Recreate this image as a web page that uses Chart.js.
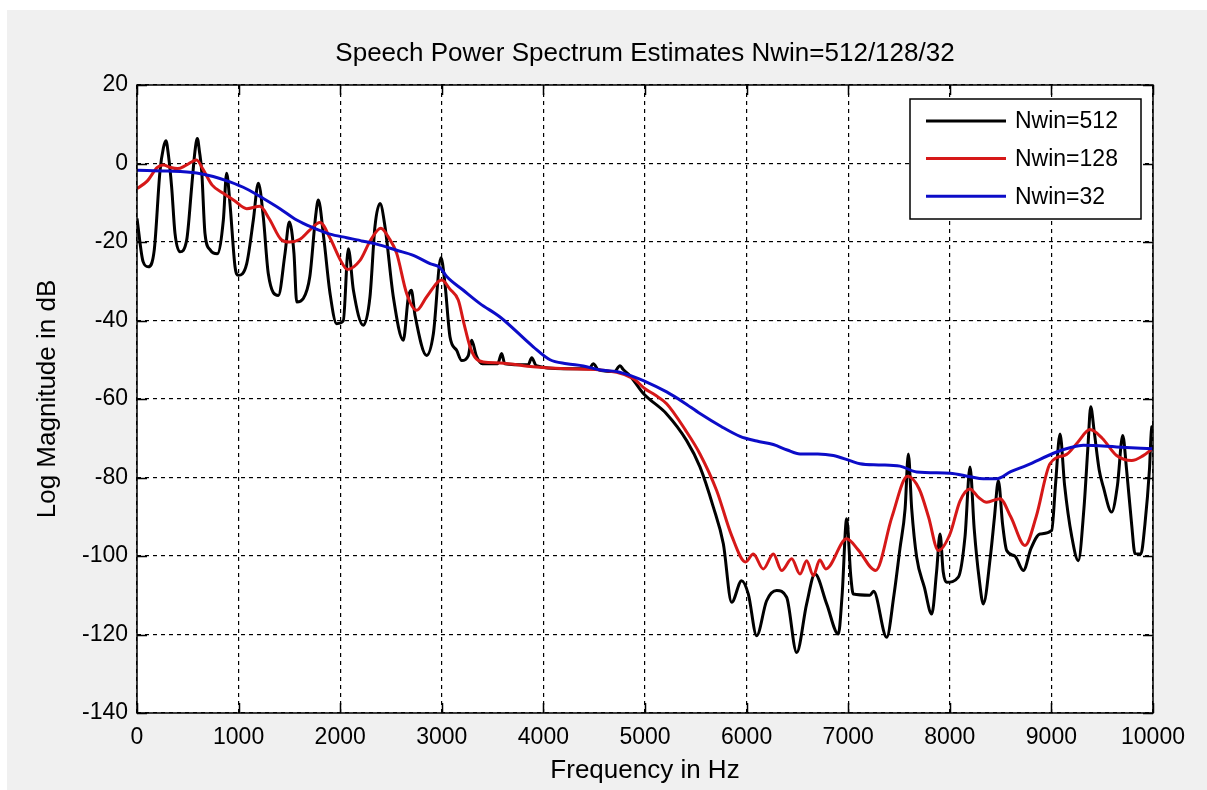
<!DOCTYPE html>
<html>
<head>
<meta charset="utf-8">
<script src="https://cdn.jsdelivr.net/npm/chart.js@4.4.1/dist/chart.umd.min.js"></script>
<style>
  html, body { margin: 0; padding: 0; background: #ffffff; overflow: hidden; }
  #wrap { position: absolute; left: 7px; top: 10px; width: 1200px; height: 780px; }
</style>
</head>
<body>
<div id="wrap"><canvas id="psd" width="1200" height="780"></canvas></div>
<script>
// Speech power spectrum, three window lengths
const freq512 = [0, 60, 111, 170, 226, 260, 285, 310, 341, 374, 423, 489, 538, 570, 594, 615, 637, 669, 720, 790,
    850, 882, 915, 965, 997, 1080, 1145, 1194, 1243, 1292, 1391, 1457, 1499, 1545, 1572, 1637, 1701, 1760, 1785, 1837,
    1900, 1965, 2030, 2080, 2130, 2228, 2293, 2342, 2392, 2441, 2523, 2621, 2671, 2700, 2736, 2851, 2917, 2992, 3031, 3081,
    3146, 3196, 3260, 3294, 3340, 3400, 3550, 3589, 3620, 3850, 3885, 3930, 4200, 4450, 4491, 4540, 4700, 4754, 4786, 4850,
    4984, 5213, 5410, 5541, 5672, 5771, 5853, 5951, 6017, 6099, 6197, 6296, 6394, 6493, 6591, 6673, 6788, 6903, 6940, 6985,
    7025, 7050, 7213, 7250, 7379, 7450, 7510, 7560, 7592, 7625, 7674, 7750, 7822, 7870, 7904, 7935, 7970, 8084, 8150, 8199,
    8240, 8290, 8330, 8400, 8440, 8478, 8520, 8560, 8640, 8724, 8800, 8888, 9003, 9040, 9085, 9130, 9200, 9265, 9320, 9360,
    9387, 9420, 9470, 9511, 9593, 9650, 9702, 9740, 9790, 9823, 9880, 9921, 9965, 9987, 10000];
const db512 = [-14, -25, -26.3, -22, -2, 4, 5.8, 2, -6, -17.8, -22.5, -19.5, -6, 3, 6.4, 3, -2, -17.8, -22, -23,
    -14.4, -2.5, -10.2, -26.3, -28.5, -25.5, -14.4, -5, -13.6, -28, -33.6, -22.9, -14.9, -22.9, -35.3, -34.4, -28.8, -13, -9.3, -18.7,
    -33.1, -40.8, -40.1, -21.7, -32.3, -41.2, -34, -16.1, -10.2, -16.1, -34, -45, -34, -32.3, -38.6, -48.9, -43.4, -24, -30.6, -44.2,
    -47.6, -50.2, -49, -45, -49, -51, -51, -48.4, -51, -51.3, -49.5, -51.5, -52.3, -52.3, -51, -52.5, -53, -51.5, -52.5, -54,
    -58.6, -63.8, -70.6, -77.3, -87.5, -96.9, -111.8, -106.3, -109.7, -120.3, -111.4, -108.8, -110.5, -124.6, -112.2, -104.6, -112.2, -119.9, -110, -90.5,
    -105, -109.7, -110, -109, -120.7, -110, -98, -88, -74, -88, -100.3, -108, -114.8, -104, -94.4, -104, -106.7, -105.4, -95, -77.3,
    -93, -106, -112.2, -100, -90, -80.8, -92, -98.6, -100, -103.7, -98, -94.4, -93.5, -82, -68.9, -82, -95, -101.2, -88, -72,
    -62, -68, -78, -82.4, -88.8, -82, -69.3, -78, -92, -99.4, -99.5, -91.8, -78, -67.1, -67];

const freq128 = [0, 100, 200, 259, 330, 400, 480, 587, 650, 740, 850, 960, 1080, 1210, 1300, 1424, 1500, 1604, 1700, 1801,
    1900, 2000, 2070, 2195, 2300, 2400, 2480, 2556, 2654, 2752, 2850, 2999, 3080, 3162, 3220, 3278, 3330, 3409, 3573, 3900,
    4229, 4557, 4885, 5000, 5100, 5213, 5400, 5541, 5705, 5853, 5990, 6066, 6164, 6263, 6345, 6444, 6526, 6591, 6657, 6720,
    6780, 6985, 7100, 7270, 7430, 7584, 7700, 7790, 7887, 8002, 8100, 8199, 8280, 8363, 8494, 8600, 8740, 8850, 8986, 9150,
    9260, 9380, 9500, 9642, 9790, 9900, 10000];
const db128 = [-6.4, -4.5, -1, -0.4, -1, -1.3, -0.5, 0.9, -1.5, -5.5, -7.6, -9.5, -11.5, -10.9, -14, -19.5, -20, -19.3, -17, -15,
    -19, -24.5, -27, -24.7, -19.5, -16.5, -19, -22.9, -33.1, -37.4, -34, -29.7, -32, -34.8, -41, -46.7, -49.5, -50.6, -50.8, -51.8,
    -52.3, -52.6, -54.8, -57.4, -59, -61.2, -68, -74, -83.3, -94.8, -101.5, -99.5, -103.3, -99.5, -103.7, -100.7, -104.6, -101.2, -105, -101,
    -103.3, -95.6, -98.5, -103.7, -90.1, -79.7, -83, -90, -98.6, -94.4, -86, -82.9, -85, -86.3, -85.4, -90, -97.3, -90, -76.5, -74.1,
    -71, -67.8, -70, -74.4, -75.7, -74.5, -72.5];

const freq32 = [0, 300, 587, 750, 915, 1080, 1243, 1407, 1572, 1736, 1900, 2064, 2228, 2392, 2556, 2720, 2884, 2982, 3048, 3212,
    3376, 3573, 3900, 4065, 4229, 4393, 4557, 4721, 4885, 4984, 5213, 5377, 5541, 5750, 5935, 6100, 6263, 6400, 6526, 6700,
    6854, 7018, 7116, 7300, 7510, 7674, 8002, 8200, 8330, 8461, 8600, 8757, 9052, 9200, 9314, 9642, 10000];
const db32 = [-1.7, -1.9, -2.4, -3.3, -4.7, -6.5, -8.9, -11.5, -14.4, -16.4, -18, -18.9, -19.8, -20.8, -22.1, -23.4, -25.5, -26.5, -28.8, -32.3,
    -35.7, -39.1, -46.7, -50, -51, -51.6, -52.6, -53, -54.3, -55.3, -58.2, -60.8, -63.7, -67, -69.5, -70.7, -71.6, -73, -74, -74,
    -74.4, -75.7, -76.5, -76.8, -77.1, -78.6, -78.9, -79.8, -80.3, -80.3, -78.5, -76.9, -73.5, -72.3, -71.8, -72.2, -72.7];

const xTicks = [0, 1000, 2000, 3000, 4000, 5000, 6000, 7000, 8000, 9000, 10000];
const yTicks = [20, 0, -20, -40, -60, -80, -100, -120, -140];

const FONT = '"Liberation Sans", Arial, sans-serif';

function pts(xs, ys) {
    return xs.map(function (x, i) { return { x: x, y: ys[i] }; });
}

// gray window background + white plot area
const bgPlugin = {
    id: 'bg',
    beforeDraw: function (chart) {
        const ctx = chart.ctx, a = chart.chartArea;
        ctx.save();
        ctx.fillStyle = '#f0f0f0';
        ctx.fillRect(0, 0, chart.width, chart.height);
        ctx.fillStyle = '#ffffff';
        ctx.fillRect(a.left, a.top, a.right - a.left, a.bottom - a.top);
        ctx.restore();
    }
};

// box frame, inward ticks on all four sides, boxed legend
const framePlugin = {
    id: 'frame',
    afterDatasetsDraw: function (chart) {
        const ctx = chart.ctx, a = chart.chartArea;
        const xs = chart.scales.x, ys = chart.scales.y;
        const tl = 10;
        ctx.save();
        ctx.strokeStyle = '#000';
        ctx.lineWidth = 1.5;
        ctx.beginPath();
        xTicks.forEach(function (v) {
            const px = Math.round(xs.getPixelForValue(v)) + 0.5;
            ctx.moveTo(px, a.bottom); ctx.lineTo(px, a.bottom - tl);
            ctx.moveTo(px, a.top); ctx.lineTo(px, a.top + tl);
        });
        yTicks.forEach(function (v) {
            const py = Math.round(ys.getPixelForValue(v)) + 0.5;
            ctx.moveTo(a.left, py); ctx.lineTo(a.left + tl, py);
            ctx.moveTo(a.right, py); ctx.lineTo(a.right - tl, py);
        });
        ctx.stroke();
        ctx.strokeRect(a.left, a.top, a.right - a.left, a.bottom - a.top);

        // legend
        const lx = 903, ly = 89, lw = 231, lh = 120;
        ctx.fillStyle = '#ffffff';
        ctx.fillRect(lx, ly, lw, lh);
        ctx.strokeStyle = '#000';
        ctx.strokeRect(lx, ly, lw, lh);
        ctx.font = '23px ' + FONT;
        ctx.textBaseline = 'middle';
        ctx.textAlign = 'left';
        chart.data.datasets.forEach(function (ds, i) {
            const yy = ly + 22 + i * 37.6;
            ctx.strokeStyle = ds.borderColor;
            ctx.lineWidth = 3;
            ctx.beginPath();
            ctx.moveTo(lx + 16, yy);
            ctx.lineTo(lx + 96, yy);
            ctx.stroke();
            ctx.fillStyle = '#000';
            ctx.fillText(ds.label, lx + 105, yy + 1);
        });
        ctx.restore();
    }
};

new Chart(document.getElementById('psd').getContext('2d'), {
    type: 'line',
    data: {
        datasets: [
            {
                label: 'Nwin=512',
                data: pts(freq512, db512),
                borderColor: '#000000',
                borderWidth: 3,
                pointRadius: 0,
                cubicInterpolationMode: 'monotone',
                order: 3
            },
            {
                label: 'Nwin=128',
                data: pts(freq128, db128),
                borderColor: 'rgb(214, 24, 24)',
                borderWidth: 3,
                pointRadius: 0,
                cubicInterpolationMode: 'monotone',
                order: 2
            },
            {
                label: 'Nwin=32',
                data: pts(freq32, db32),
                borderColor: 'rgb(12, 12, 200)',
                borderWidth: 3,
                pointRadius: 0,
                cubicInterpolationMode: 'monotone',
                order: 1
            }
        ]
    },
    options: {
        responsive: false,
        animation: false,
        layout: { padding: { left: 0, right: 54, top: 0, bottom: 0 } },
        plugins: {
            legend: { display: false },
            tooltip: { enabled: false },
            title: {
                display: true,
                fullSize: false,
                text: 'Speech Power Spectrum Estimates Nwin=512/128/32',
                color: '#000',
                font: { family: FONT, size: 26, weight: 'normal', lineHeight: 1 },
                padding: { top: 31, bottom: 18 }
            }
        },
        scales: {
            x: {
                type: 'linear',
                min: 0,
                max: 10000,
                afterFit: function (s) { s.height = 77; },
                afterBuildTicks: function (s) { s.ticks = xTicks.map(function (v) { return { value: v }; }); },
                ticks: {
                    color: '#000',
                    font: { family: FONT, size: 23, lineHeight: 1 },
                    padding: 13.5,
                    maxRotation: 0,
                    autoSkip: false,
                    callback: function (value) { return String(value); }
                },
                grid: { color: '#000', lineWidth: 1.2, drawTicks: false },
                border: { display: false, dash: [4, 4] },
                title: {
                    display: true,
                    text: 'Frequency in Hz',
                    color: '#000',
                    font: { family: FONT, size: 26, lineHeight: 1 },
                    padding: { top: 0, bottom: 6 }
                }
            },
            y: {
                type: 'linear',
                min: -140,
                max: 20,
                afterFit: function (s) { s.width = 130; },
                afterBuildTicks: function (s) { s.ticks = yTicks.map(function (v) { return { value: v }; }); },
                ticks: {
                    color: '#000',
                    font: { family: FONT, size: 23, lineHeight: 1 },
                    padding: 9,
                    callback: function (value) { return String(value); }
                },
                grid: { color: '#000', lineWidth: 1.2, drawTicks: false },
                border: { display: false, dash: [4, 4] },
                title: {
                    display: true,
                    text: 'Log Magnitude in dB',
                    color: '#000',
                    font: { family: FONT, size: 26, lineHeight: 1 },
                    padding: { top: 28, bottom: 0 }
                }
            }
        }
    },
    plugins: [bgPlugin, framePlugin]
});
</script>
</body>
</html>
